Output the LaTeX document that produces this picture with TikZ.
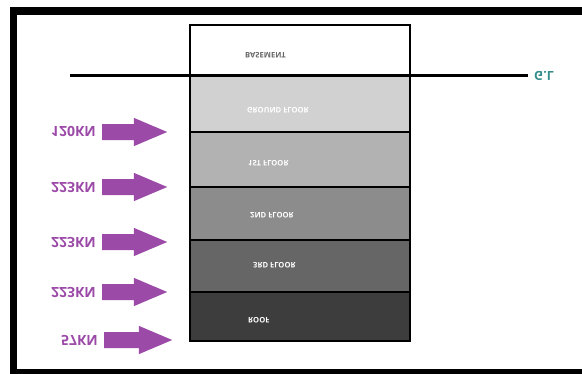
\documentclass[tikz,border=0pt]{standalone}
\usepackage{fontspec}
\setmainfont{Open Sans}
\usepackage{graphicx}
\usetikzlibrary{positioning,shapes.arrows}
\definecolor{loadpurple}{RGB}{156,74,168}
\definecolor{glteal}{RGB}{52,140,140}
\newcommand{\flipv}[1]{\scalebox{1}[-1]{#1}}
\tikzset{
  floorbox/.style={draw=black, line width=2.6pt},
  floortext/.style={anchor=west, inner sep=0, text=white, font=\bfseries\fontsize{7.6}{8}\selectfont},
  loadtext/.style={anchor=east, inner sep=0, text=loadpurple, font=\bfseries\fontsize{14}{16}\selectfont},
  loadarrow/.style={single arrow, fill=loadpurple, inner sep=0pt, inner ysep=7.8pt,
    minimum height=65pt, single arrow head extend=6.2pt, single arrow tip angle=46},
}
\begin{document}
\begin{tikzpicture}[x=1pt, y=-1pt]
  \useasboundingbox (0,0) rectangle (582,373);
  \clip (0,0) rectangle (582,373);
  \draw[line width=7.5pt] (13.5,11) rectangle (620,373);
  % floors, basement at the top
  \draw[floorbox, fill=white]            (190,25)  rectangle (410,75);
  \draw[floorbox, fill=black!18]         (190,75)  rectangle (410,132);
  \draw[floorbox, fill=black!30]         (190,132) rectangle (410,187);
  \draw[floorbox, fill=black!45]         (190,187) rectangle (410,240);
  \draw[floorbox, fill=black!60]         (190,240) rectangle (410,292);
  \draw[floorbox, fill=black!76]         (190,292) rectangle (410,341);
  \node[floortext, text=black!60] (bsmt) at (245,55)  {\flipv{BASEMENT}};
  \node[floortext] (gfloor) at (247,110) {\flipv{GROUND FLOOR}};
  \node[floortext] (floor1) at (248,163) {\flipv{1ST FLOOR}};
  \node[floortext] (floor2) at (250,215) {\flipv{2ND FLOOR}};
  \node[floortext] (floor3) at (253,265) {\flipv{3RD FLOOR}};
  \node[floortext] (roof)   at (248,320) {\flipv{ROOF}};
  % ground level
  \coordinate (glA) at (70,75.5);
  \coordinate (glB) at (528,75.5);
  \draw[line width=2.4pt] (glA) -- (glB) node[right=5pt, inner sep=0, text=glteal, font=\bfseries\fontsize{12.5}{14}\selectfont] (gl) {\flipv{G.L}};
  % lateral loads
  \node[loadtext] (load1) at (96,132) {\flipv{120KN}};
  \node[loadtext] (load2) at (96,187) {\flipv{223KN}};
  \node[loadtext] (load3) at (96,242) {\flipv{223KN}};
  \node[loadtext] (load4) at (96,292) {\flipv{223KN}};
  \node[loadtext] (load5) at (98,340) {\flipv{57KN}};
  \node[loadarrow, right=6pt of load1] (arr1) {};
  \node[loadarrow, right=6pt of load2] (arr2) {};
  \node[loadarrow, right=6pt of load3] (arr3) {};
  \node[loadarrow, right=6pt of load4] (arr4) {};
  \node[loadarrow, right=6pt of load5, minimum height=68pt] (arr5) {};
\end{tikzpicture}
\end{document}
